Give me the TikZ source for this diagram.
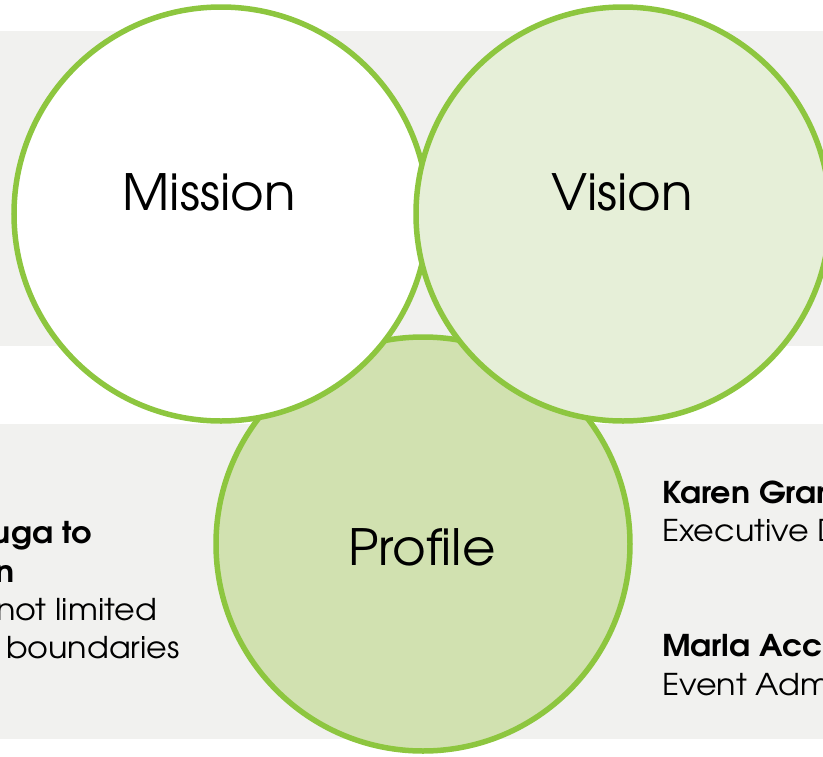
\documentclass[tikz,border=0pt]{standalone}
\usepackage{fontspec}
\setmainfont{TeX Gyre Adventor}[FakeStretch=1.03]
\newfontfamily\sidefont{TeX Gyre Adventor}[FakeStretch=1.06]
\definecolor{ring}{RGB}{141,198,63}
\definecolor{band}{RGB}{241,241,239}
\definecolor{visionfill}{RGB}{230,239,216}
\definecolor{profilefill}{RGB}{209,225,176}
\tikzset{
  circ/.style={circle,draw=ring,line width=5.5pt,minimum size=414pt,inner sep=0pt},
  big/.style={inner sep=0pt,anchor=base,font=\fontsize{50}{60}\selectfont},
  side/.style={inner sep=0pt,font=\sidefont\fontsize{30}{36}\selectfont}
}
\begin{document}
\begin{tikzpicture}[x=1pt,y=-1pt]
  \useasboundingbox (0,0) rectangle (823,756);
  \clip (0,0) rectangle (823,756);
  % grey bands
  \fill[band] (0,31) rectangle (823,346);
  \fill[band] (0,424) rectangle (823,739);
  % circles
  \draw
    (423,544) node[circ,fill=profilefill] (profile){}
    (221,214) node[circ,fill=white] (mission){}
    (623,214) node[circ,fill=visionfill] (vision){};
  \draw
    (209,210) node[big] (missionlabel){Mission}
    (622,210) node[big] (visionlabel){Vision}
    (422,565) node[big] (profilelabel){Profile};
  % text left
  \begin{scope}[side,anchor=base east]
    \node (l1) at (92,543) {\bfseries uga to};
    \node (l2) at (15,582) {\bfseries n};
    \node (l3) at (157,620) {not limited};
    \node (l4) at (180,658) {boundaries};
  \end{scope}
  % text right
  \begin{scope}[side,anchor=base west]
    \node (r1) at (662,503) {\bfseries Karen Gran};
    \node (r2) at (662,541) {Executive D};
    \node (r3) at (662,656) {\bfseries Marla Acc};
    \node (r4) at (662,695) {Event Adm};
  \end{scope}
\end{tikzpicture}
\end{document}
